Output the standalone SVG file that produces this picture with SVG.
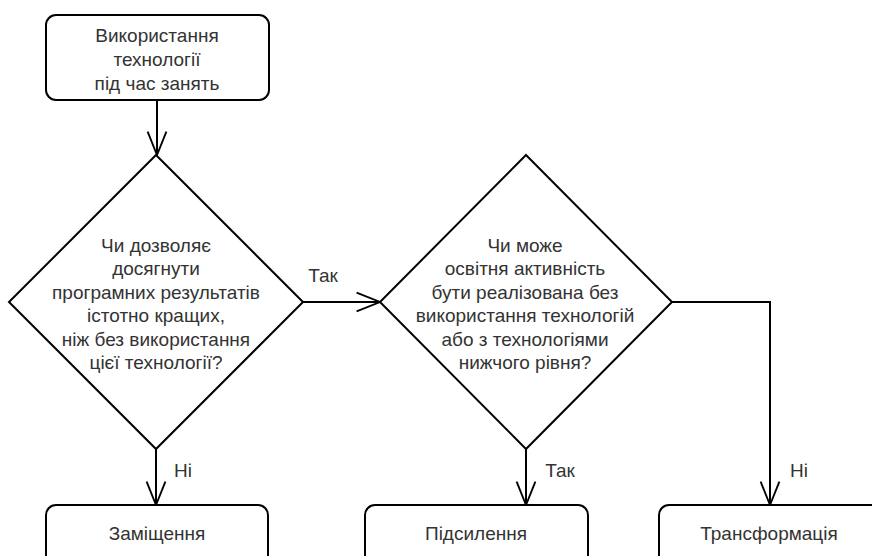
<svg xmlns="http://www.w3.org/2000/svg" width="872" height="556" viewBox="0 0 872 556">
<defs>
<marker id="arr" markerUnits="userSpaceOnUse" markerWidth="30" markerHeight="30" viewBox="-28 -14 32 28" refX="0" refY="0" orient="auto">
<path d="M-25,-10 L0,0 L-25,10" fill="none" stroke="#000" stroke-width="2"/>
</marker>
</defs>
<style>
.box{fill:#fff;stroke:#000;stroke-width:2}
.t{font-family:"Liberation Sans",Arial,sans-serif;font-size:19px;fill:#333;text-anchor:middle;dominant-baseline:central}
.e{fill:none;stroke:#000;stroke-width:2}
</style>
<rect width="872" height="556" fill="#fff"/>
<g id="edges">
<path class="e" d="M157,100 L157,155" marker-end="url(#arr)"/>
<path class="e" d="M303,302 L380,302" marker-end="url(#arr)"/>
<path class="e" d="M156,449 L156,505" marker-end="url(#arr)"/>
<path class="e" d="M526,449 L526,505" marker-end="url(#arr)"/>
<path class="e" d="M672,302 L770,302 L770,505" marker-end="url(#arr)"/>
<text class="t" x="323" y="275">Так</text>
<text class="t" x="183" y="470">Ні</text>
<text class="t" x="560" y="470">Так</text>
<text class="t" x="799" y="470">Ні</text>
</g>
<g id="start">
<rect class="box" x="46" y="15" width="223" height="85" rx="10"/>
<text class="t" x="157" y="35">Використання</text>
<text class="t" x="157" y="59">технології</text>
<text class="t" x="157" y="83">під час занять</text>
</g>
<g id="d1">
<polygon class="box" points="156,155 303,302 156,449 9,302"/>
<text class="t" x="156" y="245">Чи дозволяє</text>
<text class="t" x="156" y="268.5">досягнути</text>
<text class="t" x="156" y="292">програмних результатів</text>
<text class="t" x="156" y="315.5">істотно кращих,</text>
<text class="t" x="156" y="339">ніж без використання</text>
<text class="t" x="156" y="362.5">цієї технології?</text>
</g>
<g id="d2">
<polygon class="box" points="526,155 672,302 526,449 380,302"/>
<text class="t" x="525" y="245">Чи може</text>
<text class="t" x="525" y="268.5">освітня активність</text>
<text class="t" x="525" y="292">бути реалізована без</text>
<text class="t" x="525" y="315.5">використання технологій</text>
<text class="t" x="525" y="339">або з технологіями</text>
<text class="t" x="525" y="362.5">нижчого рівня?</text>
</g>
<g id="n1">
<rect class="box" x="46" y="505" width="222" height="70" rx="10"/>
<text class="t" x="157" y="533">Заміщення</text>
</g>
<g id="n2">
<rect class="box" x="365" y="505" width="223" height="70" rx="10"/>
<text class="t" x="476" y="533">Підсилення</text>
</g>
<g id="n3">
<rect class="box" x="659" y="505" width="223" height="70" rx="10"/>
<text class="t" x="769" y="533">Трансформація</text>
</g>
</svg>
